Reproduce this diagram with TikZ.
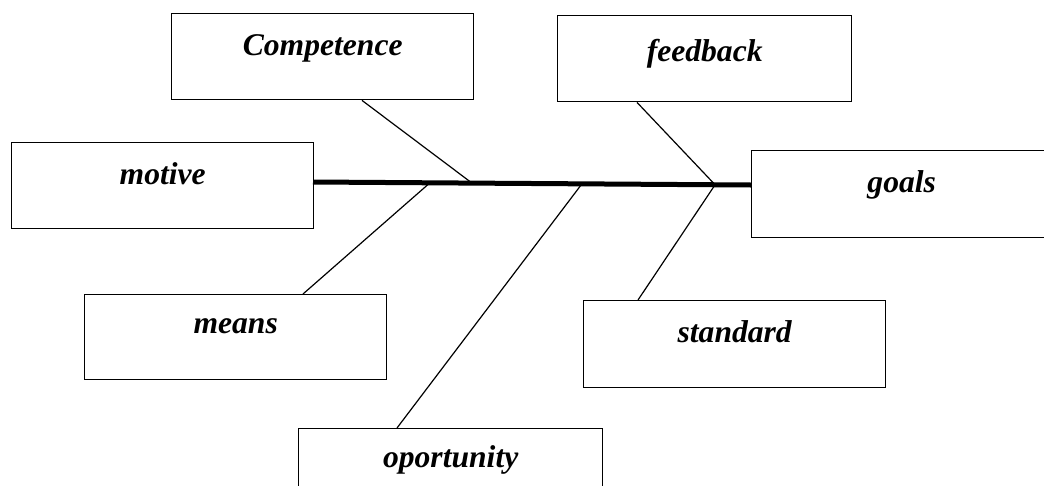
\documentclass[tikz,border=0pt]{standalone}
\usepackage{fontspec}
\setmainfont{Liberation Serif}
\usetikzlibrary{calc}
\begin{document}
\begin{tikzpicture}[x=1pt,y=-1pt,
  fbox/.style={draw=black,line width=1.4pt,inner sep=0pt,anchor=north west,
    minimum width=302pt,text height=42pt,text depth=44pt,
    font=\fontsize{31.6}{38}\selectfont\bfseries\itshape},
  bone/.style={line width=1.2pt},
  spine/.style={line width=5pt}]
\useasboundingbox (0,0) rectangle (1044,485);
\clip (0,0) rectangle (1044,485);
\fill[white] (0,0) rectangle (1044,485);
\node[fbox] (comp) at (171,13) {Competence};
\node[fbox,minimum width=294pt,text height=46pt,text depth=40pt] (fb) at (557,15) {feedback};
\node[fbox] (motive) at (11,142) {motive};
\node[fbox,minimum width=300pt,text depth=45pt] (goals) at (751,150) {goals};
\node[fbox,text height=39pt,text depth=46pt] (means) at (84,294) {means};
\node[fbox,text depth=45pt] (std) at (583,300) {standard};
\node[fbox,minimum width=304pt,text height=39pt,text depth=47pt] (opp) at (298,428) {oportunity};
\coordinate (sL) at (313,182);
\coordinate (sR) at (751,185);
\draw[spine] (sL) -- (sR);
\draw[bone] ($(comp.south west)+(191,0)$) -- ($(sL)!0.363!(sR)$);
\draw[bone] ($(means.north west)+(219,0)$) -- ($(sL)!0.267!(sR)$);
\draw[bone] ($(opp.north west)+(99,0)$) -- ($(sL)!0.614!(sR)$);
\draw[bone] ($(fb.south west)+(80,0)$) -- ($(sL)!0.918!(sR)$);
\draw[bone] ($(std.north west)+(55,0)$) -- ($(sL)!0.918!(sR)$);
\end{tikzpicture}
\end{document}
